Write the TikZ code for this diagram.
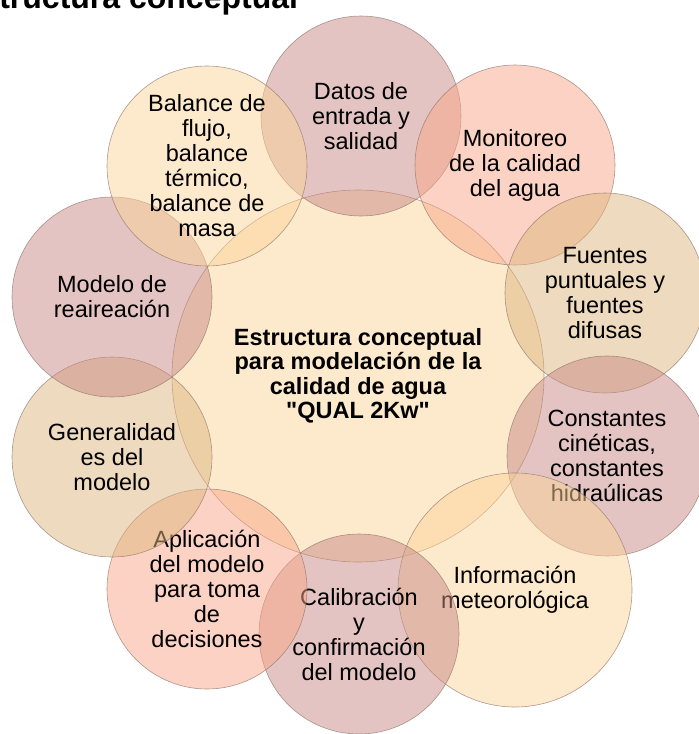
\documentclass[tikz,border=0pt]{standalone}
\usepackage{fontspec}
\setmainfont{Liberation Sans}
\newfontfamily\qfont{Liberation Sans}
\definecolor{peach}{HTML}{FBD399}
\definecolor{mauve}{HTML}{C98A85}
\definecolor{salmon}{HTML}{F8A587}
\definecolor{tan}{HTML}{DDB67F}
\definecolor{rim}{HTML}{8C7468}
\begin{document}
\begin{tikzpicture}[x=1pt,y=-1pt,
  venn/.style={circle, minimum size=200pt, inner sep=0pt, draw=rim, line width=0.6pt,
    draw opacity=0.7, fill opacity=0.5, text opacity=1, align=center,
    font=\fontsize{23.5}{25}\selectfont},
  hub/.style={venn, minimum size=372pt, font=\bfseries\fontsize{23.5}{24.5}\selectfont},
  titletext/.style={anchor=base west, inner sep=0pt, font=\bfseries\fontsize{32}{36}\selectfont}]
\useasboundingbox (0,0) rectangle (699,734);
\clip (0,0) rectangle (699,734);
\node[titletext] (title) at (-40,8) {Estructura conceptual};
\node[hub, fill=peach] (hubc) at (358,376) {Estructura conceptual\\para modelación de la\\calidad de agua\\{\qfont"}QUAL 2Kw{\qfont"}};
\node[venn, fill=mauve] (datos) at (361,116) {Datos de\\entrada y\\salidad};
\node[venn, fill=salmon] (moni) at (515,165) {Monitoreo\\de la calidad\\del agua};
\node[venn, fill=tan] (fuen) at (605,293) {Fuentes\\puntuales y\\fuentes\\difusas};
\node[venn, fill=mauve] (const) at (607,456) {Constantes\\cinéticas,\\constantes\\hidraúlicas};
\node[venn, fill=peach, minimum size=234pt] (info) at (515,590) {Información\\meteorológica};
\node[venn, fill=mauve] (calib) at (359,634) {Calibración\\y\\confirmación\\del modelo};
\node[venn, fill=salmon] (aplic) at (207,589) {Aplicación\\del modelo\\para toma\\de\\decisiones};
\node[venn, fill=tan] (gener) at (112,457) {Generalidad\\es del\\modelo};
\node[venn, fill=mauve] (reair) at (112,297) {Modelo de\\reaireación};
\node[venn, fill=peach] (balan) at (207,166) {Balance de\\flujo,\\balance\\térmico,\\balance de\\masa};
\end{tikzpicture}
\end{document}
